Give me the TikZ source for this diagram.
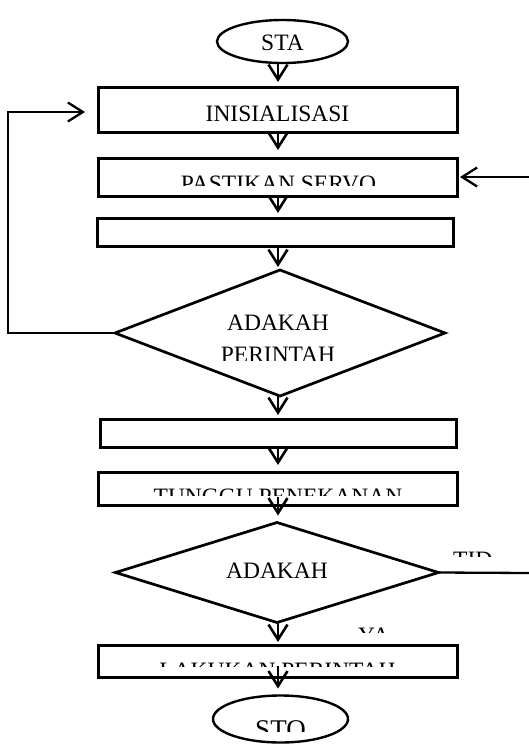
\documentclass[tikz,border=0pt]{standalone}
\usepackage{fontspec}
\setmainfont{Liberation Serif}
\usetikzlibrary{shapes.geometric,arrows.meta,calc}
\tikzset{
  boxnode/.style={draw,line width=3pt,rectangle,inner sep=0pt,outer sep=0pt},
  decnode/.style={draw,line width=2.7pt,diamond,inner sep=0pt,outer sep=0pt},
  termnode/.style={draw,line width=2.4pt,ellipse,inner sep=0pt,outer sep=0pt},
  arr/.style={line width=2.6pt,-{Straight Barb[length=15pt,width=19pt]}},
  plainline/.style={line width=2.3pt},
  lbl/.style={inner sep=0pt,anchor=base,font=\fontsize{23.5}{28}\selectfont}
}
\begin{document}
\begin{tikzpicture}[x=1pt,y=-1pt]
\useasboundingbox (0,0) rectangle (529,744);
% terminals
\node[termnode,minimum width=131pt,minimum height=43pt] (sta) at (282.5,41.5) {};
\node[termnode,minimum width=135pt,minimum height=47pt] (sto) at (280.5,719) {};
% boxes
\node[boxnode,minimum width=359pt,minimum height=45pt] (b1) at (277.5,109.5) {};
\node[boxnode,minimum width=359pt,minimum height=38pt] (b2) at (277.5,177) {};
\node[boxnode,minimum width=356pt,minimum height=28pt] (b3) at (275,232) {};
\node[boxnode,minimum width=356pt,minimum height=28pt] (b4) at (278,433) {};
\node[boxnode,minimum width=359pt,minimum height=33pt] (b5) at (277.5,488.5) {};
\node[boxnode,minimum width=359pt,minimum height=32pt] (b6) at (277.5,661) {};
% decisions
\node[decnode,minimum width=330pt,minimum height=126pt] (d1) at (280,333) {};
\node[decnode,minimum width=323pt,minimum height=100pt] (d2) at (277,572.5) {};
% texts
\node[lbl] (tsta) at (282.5,50) {STA};
\node[lbl] (tini) at (277.5,121.5) {INISIALISASI};
\begin{scope}
\clip (100,165) rectangle (455,185);
\node[lbl] (tpas) at (278.5,191.6) {PASTIKAN SERVO};
\end{scope}
\node[lbl] (tad1) at (278,330) {ADAKAH};
\begin{scope}
\clip (150,335) rectangle (410,360);
\node[lbl] (tper) at (278,362.3) {PERINTAH};
\end{scope}
\begin{scope}
\clip (100,480) rectangle (455,495);
\node[lbl] (ttun) at (278,504) {TUNGGU PENEKANAN};
\end{scope}
\node[lbl] (tad2) at (277,578) {ADAKAH};
\begin{scope}
\clip (450,545) rectangle (493,556.7);
\node[lbl,anchor=base west] (ttid) at (453,567.3) {TIDAK};
\end{scope}
\begin{scope}
\clip (350,620) rectangle (400,632);
\node[lbl,anchor=base west] (tya) at (358,643.6) {YA};
\end{scope}
\begin{scope}
\clip (100,655) rectangle (455,666.7);
\node[lbl] (tlak) at (277.5,678.3) {LAKUKAN PERINTAH};
\end{scope}
\begin{scope}
\clip (200,700) rectangle (360,731);
\node[lbl,font=\fontsize{27}{32}\selectfont] (tsto) at (280.5,738) {STO};
\end{scope}
% connectors
\draw[arr,shorten >=5pt] (278,63) -- (278,87);
\draw[arr,shorten >=8pt] (b1.south -| 278,0) -- (b2.north -| 278,0);
\draw[arr,shorten >=5pt] (b2.south -| 278,0) -- (b3.north -| 278,0);
\draw[arr,shorten >=3pt] (b3.south -| 278,0) -- (d1.north -| 278,0);
\draw[arr,shorten >=4pt] (d1.south -| 278,0) -- (b4.north -| 278,0);
\draw[arr,shorten >=7pt] (b4.south -| 278,0) -- (b5.north -| 278,0);
\draw[arr,shorten >=7pt] (278,497) -- (d2.north -| 278,0);
\draw[arr,shorten >=3pt] (d2.south -| 278,0) -- (b6.north -| 278,0);
\draw[arr,shorten >=7pt] (278,666) -- (sto.north -| 278,0);
% loop back
\coordinate (lc) at (8,333);
\draw[arr,line width=2.3pt,shorten >=13pt] (d1.west) -- (lc) |- ($(b1.west)+(0,2.5)$);
% right arrow into b2
\coordinate (r2) at (529,177);
\draw[arr,line width=2.3pt,shorten >=3pt] (r2) -- (b2.east);
% right line from d2
\coordinate (r3) at (529,573);
\draw[plainline] (d2.east) -- (r3);
\end{tikzpicture}
\end{document}
